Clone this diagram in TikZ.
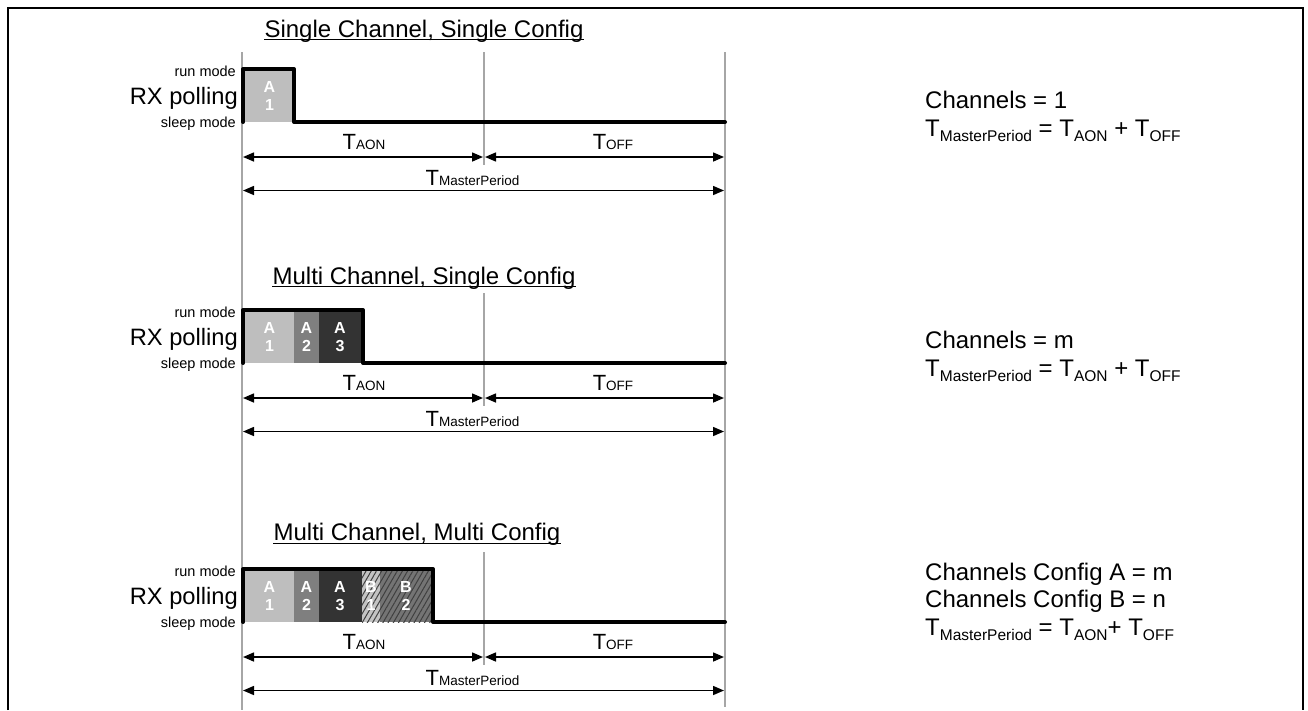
\documentclass[tikz,border=0pt]{standalone}
\usepackage{fontspec}
\setmainfont{Liberation Sans}
\usetikzlibrary{arrows.meta,patterns.meta}
\definecolor{cA1}{HTML}{BEBEBE}
\definecolor{cA2}{HTML}{7F7F7F}
\definecolor{cA3}{HTML}{333333}
\definecolor{cB1}{HTML}{C4C4C4}
\definecolor{cB2}{HTML}{747474}
\definecolor{gridgray}{HTML}{A6A6A6}
\newcommand\Tsub[1]{{\fontsize{22}{26}\selectfont T}{\fontsize{13.5}{16}\selectfont #1}}
\newcommand\Teq[1]{T\raisebox{-5pt}{\fontsize{15.5}{18}\selectfont #1}}
\tikzset{
  frameline/.style={line width=2.5pt},
  gridline/.style={draw=gridgray, line width=1.3pt},
  signal/.style={line width=4pt, line cap=round, line join=round},
  dim/.style={line width=1.5pt, {Triangle[length=11pt,width=9pt]}-{Triangle[length=11pt,width=9pt]}},
  ttl/.style={font=\fontsize{24}{28}\selectfont, anchor=base, inner sep=0pt},
  lbl/.style={font=\fontsize{14.5}{17}\selectfont, anchor=base east, inner sep=0pt},
  rx/.style={font=\fontsize{23.7}{28}\selectfont, anchor=base east, inner sep=0pt},
  blk/.style={font=\fontsize{16}{18.5}\selectfont\bfseries, text=white, align=center, inner sep=0pt},
  tlab/.style={anchor=base, inner sep=0pt},
  eq/.style={font=\fontsize{24}{28.5}\selectfont, anchor=base west, inner sep=0pt, align=left},
  hatch/.style={pattern={Lines[angle=60, distance=4.5pt, line width=1pt]}, pattern color=black!75},
}
\begin{document}
\begin{tikzpicture}[x=1pt, y=-1pt]
\useasboundingbox (0,0) rectangle (1308,710);
% frame
\coordinate (fr-bl) at (8,710);
\coordinate (fr-tl) at (8,8);
\coordinate (fr-tr) at (1303,8);
\coordinate (fr-br) at (1303,710);
\draw[frameline] (fr-bl) -- (fr-tl) -- (fr-tr) -- (fr-br);
% long grid lines
\coordinate (gl-t) at (242,52);
\coordinate (gl-b) at (242,710);
\coordinate (gr-t) at (725,52);
\coordinate (gr-b) at (725,707);
\draw[gridline] (gl-t) -- (gl-b);
\draw[gridline] (gr-t) -- (gr-b);

% blocks section 1
\fill[cA1] (245,69) rectangle (294,122);
\node[blk] (b1a1) at (269.5,96) {A\\1};
% blocks section 2
\fill[cA1] (245,310) rectangle (294,363);
\fill[cA2] (294,310) rectangle (319,363);
\fill[cA3] (319,310) rectangle (363,363);
\node[blk] (b2a1) at (269.5,337) {A\\1};
\node[blk] (b2a2) at (306.5,337) {A\\2};
\node[blk] (b2a3) at (340,337) {A\\3};
% blocks section 3
\fill[cA1] (245,569) rectangle (294,622);
\fill[cA2] (294,569) rectangle (319,622);
\fill[cA3] (319,569) rectangle (362,622);
\fill[cB1] (362,569) rectangle (380,622);
\fill[hatch] (362,569) rectangle (380,622);
\fill[cB2] (380,569) rectangle (433,622);
\fill[hatch] (380,569) rectangle (433,622);
\node[blk] (b3a1) at (269.5,596) {A\\1};
\node[blk] (b3a2) at (306.5,596) {A\\2};
\node[blk] (b3a3) at (340,596) {A\\3};
\node[blk] (b3b1) at (371,596) {B\\1};
\node[blk] (b3b2) at (406,596) {B\\2};

\foreach \n/\dy/\fx/\tx/\ty/\ttext in {
  1/0/294/424/37.3/{Single Channel, Single Config},
  2/241/363/424/284/{Multi Channel, Single Config},
  3/500/433/417/540.7/{Multi Channel, Multi Config}}{
  % title
  \node[ttl] (title\n) at (\tx,\ty) {\ttext};
  \draw[line width=1.3pt] ([yshift=-2.5pt]title\n.base west) -- ([yshift=-2.5pt]title\n.base east);
  % middle grid line
  \coordinate (gm\n-t) at (484,52+\dy);
  \coordinate (gm\n-b) at (484,165+\dy);
  \draw[gridline] (gm\n-t) -- (gm\n-b);
  % left labels
  \node[lbl] (run\n) at (236,76+\dy) {run mode};
  \node[rx] (rx\n) at (238,104+\dy) {RX polling};
  \node[lbl] (sleep\n) at (236,127+\dy) {sleep mode};
  % signal
  \coordinate (s\n-0) at (243,122+\dy);
  \coordinate (s\n-1) at (243,69+\dy);
  \coordinate (s\n-2) at (\fx,69+\dy);
  \coordinate (s\n-3) at (\fx,122+\dy);
  \coordinate (s\n-4) at (725,122+\dy);
  \draw[signal] (s\n-0) -- (s\n-1) -- (s\n-2) -- (s\n-3) -- (s\n-4);
  % dimension arrows
  \coordinate (aon\n-l) at (243,157+\dy);
  \coordinate (aon\n-r) at (483,157+\dy);
  \coordinate (off\n-l) at (485,157+\dy);
  \coordinate (off\n-r) at (724,157+\dy);
  \coordinate (mp\n-l) at (243,190.5+\dy);
  \coordinate (mp\n-r) at (724,190.5+\dy);
  \draw[dim] (aon\n-l) -- (aon\n-r);
  \draw[dim] (off\n-l) -- (off\n-r);
  \draw[dim] (mp\n-l) -- (mp\n-r);
  \node[tlab] (taon\n) at (364,149.3+\dy) {\Tsub{AON}};
  \node[tlab] (toff\n) at (613,149.3+\dy) {\Tsub{OFF}};
  \node[tlab] (tmp\n) at (472.5,185+\dy) {\Tsub{MasterPeriod}};
}

% right-hand equations
\node[eq] (eq1a) at (925,108) {Channels = 1};
\node[eq] (eq1b) at (925,136.5) {\Teq{MasterPeriod} = \Teq{AON} + \Teq{OFF}};
\node[eq] (eq2a) at (925,348) {Channels = m};
\node[eq] (eq2b) at (925,376.5) {\Teq{MasterPeriod} = \Teq{AON} + \Teq{OFF}};
\node[eq] (eq3a) at (925,580) {Channels Config A = m};
\node[eq] (eq3b) at (925,607) {Channels Config B = n};
\node[eq] (eq3c) at (925,635.5) {\Teq{MasterPeriod} = \Teq{AON}+ \Teq{OFF}};
\end{tikzpicture}
\end{document}
